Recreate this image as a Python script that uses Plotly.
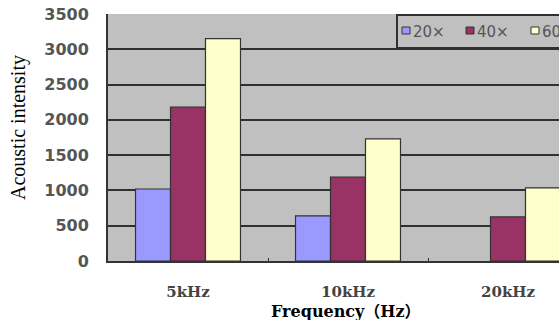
import plotly.graph_objects as go

categories = ["5kHz", "10kHz", "20kHz"]
series_names = ["20×", "40×", "60×"]
s20 = [1020, 640, None]
s40 = [2180, 1190, 625]
s60 = [3150, 1730, 1035]
colors = ["#9999FF", "#993366", "#FFFFCC"]
y_ticks = [0, 500, 1000, 1500, 2000, 2500, 3000, 3500]
y_title = "Acoustic intensity"
x_title = "Frequency（Hz）"

W, H = 559, 320
L, R, T, B = 108, 0, 14, 59
pw, ph = W - L - R, H - T - B

def px(x):  # window pixel -> paper fraction
    return (x - L) / pw

def py(y):
    return (H - B - y) / ph

fig = go.Figure()
for name, vals, col in zip(series_names, [s20, s40, s60], colors):
    fig.add_trace(go.Bar(
        x=categories, y=vals, name=name,
        marker=dict(color=col, line=dict(color="#333333", width=1.2)),
        showlegend=False,
    ))

# legend drawn manually to match the cropped reference
shapes = [dict(type="rect", xref="paper", yref="paper",
               x0=px(397), x1=px(565), y0=py(48), y1=py(15),
               fillcolor="#C0C0C0", line=dict(color="#303030", width=2), layer="above")]
annotations = []
sw_x = [402, 466, 531]
for i, (name, col) in enumerate(zip(series_names, colors)):
    shapes.append(dict(type="rect", xref="paper", yref="paper",
                       x0=px(sw_x[i]), x1=px(sw_x[i] + 8), y0=py(34), y1=py(27),
                       fillcolor=col, line=dict(color="#333333", width=1), layer="above"))
    annotations.append(dict(text=name, xref="paper", yref="paper",
                            x=px(sw_x[i] + 9), y=py(32), xanchor="left", yanchor="middle",
                            showarrow=False,
                            font=dict(family="DejaVu Sans, Noto Sans CJK SC", size=15, color="#555555")))

# axis titles
annotations.append(dict(text=y_title, xref="paper", yref="paper", x=px(18), y=py(128),
                        xanchor="center", yanchor="middle", textangle=-90, showarrow=False,
                        font=dict(family="Liberation Serif", size=20, color="#000000")))
annotations.append(dict(text=x_title, xref="paper", yref="paper", x=px(346), y=py(311),
                        xanchor="center", yanchor="middle", showarrow=False,
                        font=dict(family="DejaVu Serif, Noto Sans CJK SC", size=16,
                                  color="#000000", weight="bold")))

fig.update_layout(
    width=W, height=H,
    margin=dict(l=L, r=R, t=T, b=B, pad=0, autoexpand=False),
    paper_bgcolor="white", plot_bgcolor="#C0C0C0",
    barmode="group", bargap=0.344, bargroupgap=0,
    shapes=shapes, annotations=annotations,
    xaxis=dict(
        type="category", range=[-0.5, -0.5 + pw / 160.0], automargin=False,
        showline=True, linecolor="#333333", linewidth=2,
        ticks="inside", ticklen=3, tickcolor="#333333", tickson="boundaries",
        showgrid=False,
        tickfont=dict(family="DejaVu Serif, Liberation Serif", size=15, color="#444444", weight="bold"),
        ticklabelstandoff=16,
    ),
    yaxis=dict(
        range=[0, 3500], tickvals=y_ticks, automargin=False,
        showline=True, linecolor="#333333", linewidth=2,
        showgrid=True, gridcolor="#303030", gridwidth=1.5,
        ticks="", zeroline=False,
        tickfont=dict(family="DejaVu Sans", size=16, color="#555555", weight="bold"),
        ticklabelstandoff=14,
    ),
)

fig.write_html("out.html", config={"displayModeBar": False},
               post_script="document.body.style.margin='0';document.body.style.overflow='hidden';")
